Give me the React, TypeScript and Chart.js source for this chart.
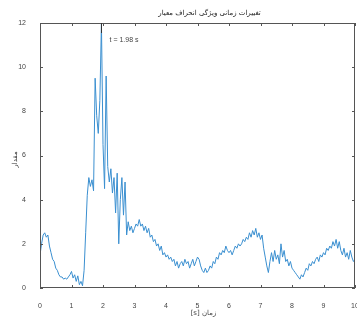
import React, { useEffect, useRef } from 'react';
import { Chart, registerables } from 'chart.js';

Chart.register(...registerables);

const TITLE = 'تغییرات زمانی ویژگی انحراف معیار';
const X_LABEL = 'زمان [s]';
const Y_LABEL = 'مقدار';
const PEAK_LABEL = 't = 1.98 s';

const TIME_STEP = 0.05;
const X_TICKS = [0, 1, 2, 3, 4, 5, 6, 7, 8, 9, 10];
const Y_TICKS = [0, 2, 4, 6, 8, 10, 12];

const VALUES = [
  1.5, 2.0, 2.4, 2.5, 2.3, 2.4, 1.9, 1.6, 1.3, 1.2,
  0.9, 0.8, 0.6, 0.5, 0.5, 0.4, 0.45, 0.4, 0.5, 0.6,
  0.75, 0.45, 0.6, 0.3, 0.55, 0.15, 0.3, 0.1, 0.8, 2.5,
  4.2, 5.0, 4.6, 4.9, 4.4, 9.5, 7.8, 7.0, 8.5, 12.0,
  6.5, 4.5, 9.6, 5.5, 4.8, 5.4, 4.3, 5.0, 3.4, 5.2,
  2.0, 4.0, 5.0, 3.3, 4.8, 2.4, 3.0, 2.6, 2.8, 2.5,
  2.7, 2.9, 2.8, 3.1, 2.8, 2.9, 2.6, 2.8, 2.5, 2.7,
  2.3, 2.4, 2.1, 2.2, 1.9, 2.0, 1.7, 1.9, 1.5, 1.6,
  1.4, 1.5, 1.3, 1.4, 1.2, 1.3, 1.0, 1.2, 0.9, 1.1,
  1.2, 1.0, 1.3, 1.1, 1.2, 0.9, 1.1, 1.3, 1.0, 1.2,
  1.4, 1.3, 1.0, 0.8, 0.7, 0.9, 0.7, 0.8, 1.0, 0.9,
  1.2, 1.1, 1.4, 1.3, 1.6, 1.5, 1.7, 1.6, 1.9, 1.7,
  1.6, 1.7, 1.5, 1.7, 1.9, 1.8, 2.0, 1.9, 2.0, 2.2,
  2.1, 2.3, 2.2, 2.5, 2.3, 2.6, 2.4, 2.7, 2.3, 2.5,
  2.2, 2.4, 1.8, 1.4, 1.0, 0.7, 1.2, 1.6, 1.2, 1.7,
  1.3, 1.5, 1.1, 2.0, 1.4, 1.7, 1.2, 1.3, 1.0, 1.2,
  0.9, 0.8, 0.7, 0.6, 0.5, 0.4, 0.6, 0.5, 0.7, 0.9,
  0.8, 1.1, 1.0, 1.2, 1.1, 1.3, 1.4, 1.2, 1.5, 1.4,
  1.6, 1.5, 1.8, 1.7, 1.9, 1.8, 2.1, 1.9, 2.2, 1.8,
  2.1, 1.7, 1.5, 1.8, 1.4, 1.6, 1.3, 1.7, 1.4, 1.2,
  1.3,
];

const LINE_COLOR = '#3a8fd0';
const AXIS_COLOR = '#555555';
const TEXT_COLOR = '#444444';
const NUM_FONT = '7px "Liberation Sans", Arial, sans-serif';
const FA_FONT = '7px "DejaVu Sans", sans-serif';

const decorPlugin = {
  id: 'decor',
  afterDraw(chart: any) {
    const { ctx, chartArea } = chart;
    const { left, right, top, bottom } = chartArea;
    const xs = chart.scales.x;
    const ys = chart.scales.y;
    ctx.save();
    ctx.strokeStyle = AXIS_COLOR;
    ctx.lineWidth = 1;
    ctx.strokeRect(left + 0.5, top + 0.5, right - left - 1, bottom - top - 1);
    ctx.beginPath();
    X_TICKS.forEach((v) => {
      const px = Math.round(xs.getPixelForValue(v)) + 0.5;
      ctx.moveTo(px, bottom);
      ctx.lineTo(px, bottom - 3);
      ctx.moveTo(px, top);
      ctx.lineTo(px, top + 3);
    });
    Y_TICKS.forEach((v) => {
      const py = Math.round(ys.getPixelForValue(v)) + 0.5;
      ctx.moveTo(left, py);
      ctx.lineTo(left + 3, py);
      ctx.moveTo(right, py);
      ctx.lineTo(right - 3, py);
    });
    ctx.stroke();

    let peakIdx = 0;
    VALUES.forEach((v, i) => {
      if (v > VALUES[peakIdx]) peakIdx = i;
    });
    const peakX = Math.round(xs.getPixelForValue(peakIdx * TIME_STEP)) + 0.5;
    const peakY = ys.getPixelForValue(VALUES[peakIdx]);
    ctx.strokeStyle = '#333333';
    ctx.beginPath();
    ctx.moveTo(peakX, peakY);
    ctx.lineTo(peakX, peakY + 10);
    ctx.stroke();
    ctx.fillStyle = TEXT_COLOR;
    ctx.font = NUM_FONT;
    ctx.textAlign = 'left';
    ctx.textBaseline = 'middle';
    ctx.fillText(PEAK_LABEL, peakX + 8, top + 17);

    ctx.font = FA_FONT;
    ctx.textAlign = 'center';
    ctx.textBaseline = 'middle';
    ctx.direction = 'rtl';
    ctx.fillStyle = '#222222';
    ctx.fillText(TITLE, (left + right) / 2 + 12, 13);
    ctx.fillStyle = TEXT_COLOR;
    ctx.fillText(X_LABEL, (left + right) / 2 + 6, 313);
    ctx.translate(15, (top + bottom) / 2 + 4);
    ctx.rotate(-Math.PI / 2);
    ctx.fillText(Y_LABEL, 0, 0);
    ctx.restore();
  },
};

export default function App() {
  const canvasRef = useRef<HTMLCanvasElement | null>(null);

  useEffect(() => {
    document.body.style.margin = '0';
    const canvas = canvasRef.current;
    if (!canvas) return;
    const points = VALUES.map((v, i) => ({ x: i * TIME_STEP, y: v }));
    const chart = new Chart(canvas, {
      type: 'line',
      data: {
        datasets: [
          {
            data: points,
            borderColor: LINE_COLOR,
            borderWidth: 1,
            pointRadius: 0,
            tension: 0,
            fill: false,
          },
        ],
      },
      options: {
        responsive: false,
        animation: false,
        layout: { padding: { top: 23, right: 2, left: 0, bottom: 0 } },
        plugins: {
          legend: { display: false },
          title: { display: false },
          tooltip: { enabled: false },
        },
        scales: {
          x: {
            type: 'linear',
            min: 0,
            max: 10,
            grid: { display: false },
            border: { display: false },
            afterBuildTicks: (scale: any) => {
              scale.ticks = X_TICKS.map((v) => ({ value: v }));
            },
            afterFit: (scale: any) => {
              scale.height = 35;
              scale.paddingLeft = 0;
              scale.paddingRight = 0;
            },
            ticks: {
              color: TEXT_COLOR,
              font: { family: '"Liberation Sans", Arial, sans-serif', size: 7 },
              padding: 6,
              maxRotation: 0,
              autoSkip: false,
            },
          },
          y: {
            min: 0,
            max: 12,
            grid: { display: false },
            border: { display: false },
            afterBuildTicks: (scale: any) => {
              scale.ticks = Y_TICKS.map((v) => ({ value: v }));
            },
            afterFit: (scale: any) => {
              scale.width = 40;
              scale.paddingTop = 0;
              scale.paddingBottom = 0;
            },
            ticks: {
              color: TEXT_COLOR,
              font: { family: '"Liberation Sans", Arial, sans-serif', size: 7 },
              padding: 6,
              autoSkip: false,
            },
          },
        },
      },
      plugins: [decorPlugin],
    });
    return () => chart.destroy();
  }, []);

  return (
    <div style={{ width: 357, height: 323, background: '#ffffff' }}>
      <canvas ref={canvasRef} width={357} height={323} />
    </div>
  );
}
